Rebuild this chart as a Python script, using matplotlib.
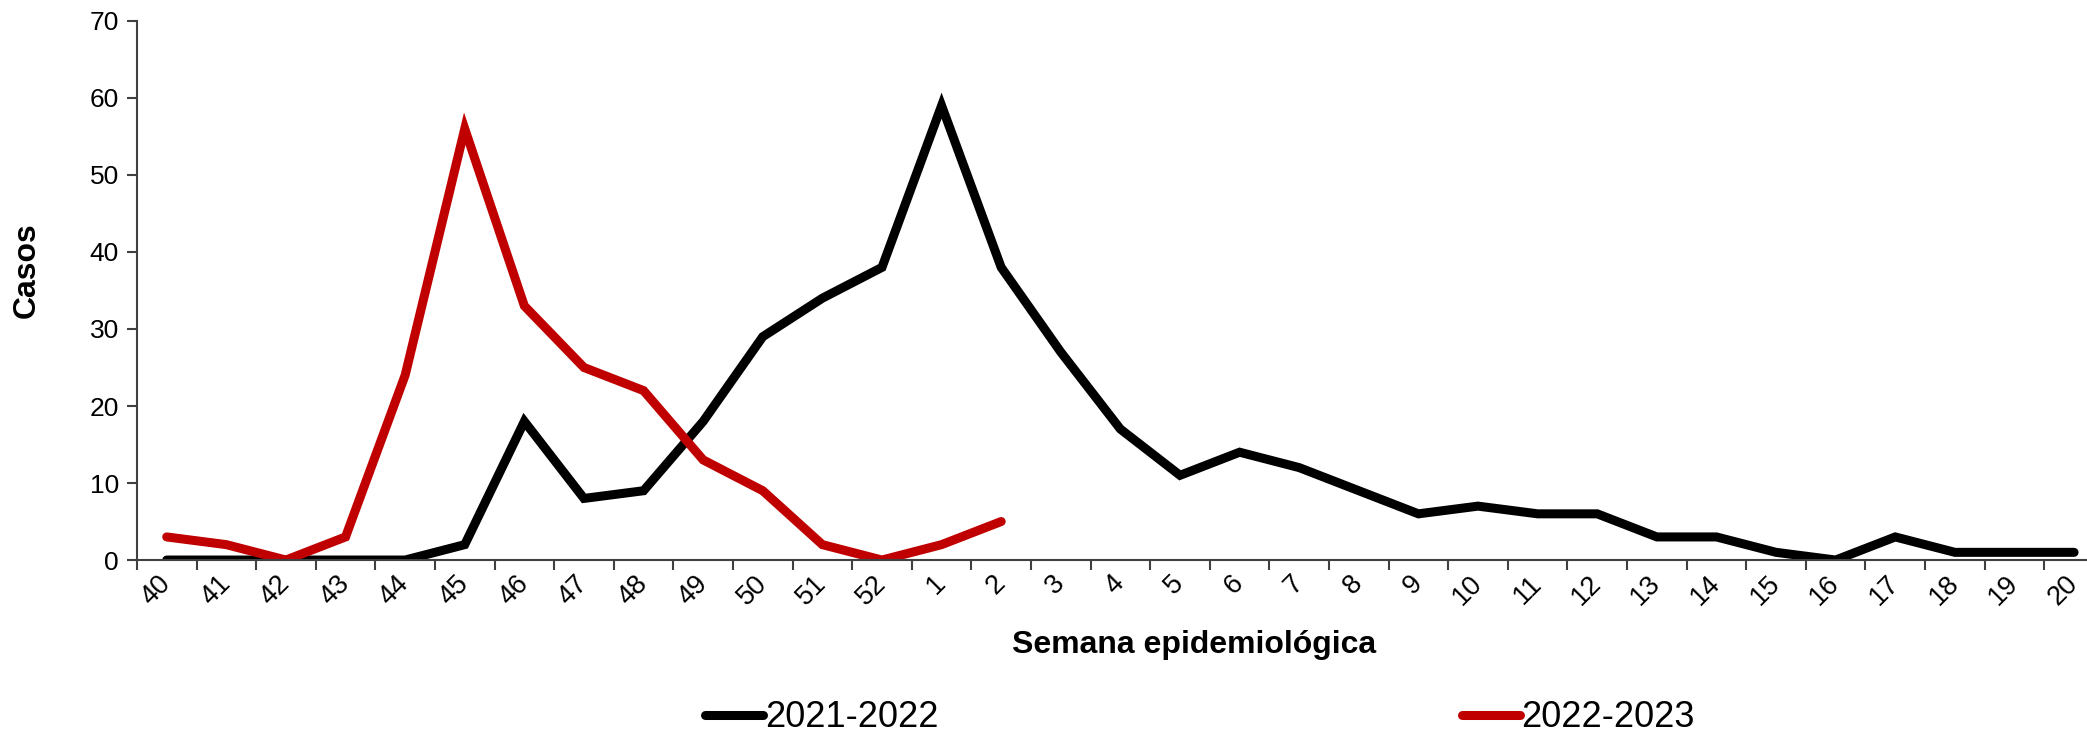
import numpy as np
import matplotlib
matplotlib.use("Agg")
import matplotlib.pyplot as plt

plt.rcParams['font.family'] = ['Liberation Sans', 'DejaVu Sans']

# Epidemiological weeks (season runs from week 40 to week 20)
weeks = [40, 41, 42, 43, 44, 45, 46, 47, 48, 49, 50, 51, 52,
         1, 2, 3, 4, 5, 6, 7, 8, 9, 10, 11, 12, 13, 14, 15, 16, 17, 18, 19, 20]

season_2021_2022 = [0, 0, 0, 0, 0, 2, 18, 8, 9, 18, 29, 34, 38,
                    59, 38, 27, 17, 11, 14, 12, 9, 6, 7, 6, 6, 3, 3, 1, 0, 3, 1, 1, 1]
season_2022_2023 = [3, 2, 0, 3, 24, 56, 33, 25, 22, 13, 9, 2, 0, 2, 5]

yticks = [0, 10, 20, 30, 40, 50, 60, 70]

fig = plt.figure(figsize=(20.87, 7.34), dpi=100)
ax = fig.add_axes([0.0656, 0.237, 0.9425, 0.7345])

x = np.arange(len(weeks))
ax.plot(x, season_2021_2022, color='black', lw=6.5, solid_capstyle='round',
        solid_joinstyle='miter', label='2021-2022')
ax.plot(x[:len(season_2022_2023)], season_2022_2023, color='#C00000', lw=6.5,
        solid_capstyle='round', solid_joinstyle='miter', label='2022-2023')

ax.set_xlim(-0.5, len(weeks) - 0.5)
ax.set_ylim(0, 70)
ax.set_yticks(yticks)

# tick marks between categories, labels at categories
ax.set_xticks(np.arange(len(weeks) + 1) - 0.5)
ax.set_xticklabels([])
ax.set_xticks(x, minor=True)
ax.set_xticklabels([str(w) for w in weeks], minor=True, rotation=45,
                   ha='right', va='center', rotation_mode='anchor', fontsize=19.5)
ax.tick_params(axis='x', which='minor', length=0, pad=14)
ax.tick_params(axis='x', which='major', length=7, width=1.5, color='#404040')
ax.tick_params(axis='y', length=7, width=1.5, color='#404040', labelsize=19, pad=6)

for side in ['top', 'right']:
    ax.spines[side].set_visible(False)
for side in ['left', 'bottom']:
    ax.spines[side].set_color('#404040')
    ax.spines[side].set_linewidth(1.5)

fig.text(0.013, 0.632, 'Casos', rotation=90, fontsize=23, fontweight='bold',
         ha='center', va='center')
fig.text(0.572, 0.121, 'Semana epidemiológica', fontsize=23, fontweight='bold',
         ha='center', va='center')

fig.legend(loc='center', bbox_to_anchor=(0.575, 0.022), ncol=2, frameon=False,
           fontsize=26, handlelength=1.6, handletextpad=0.05, columnspacing=14.5,
           borderpad=0)

fig.savefig('out.png', dpi=100)
